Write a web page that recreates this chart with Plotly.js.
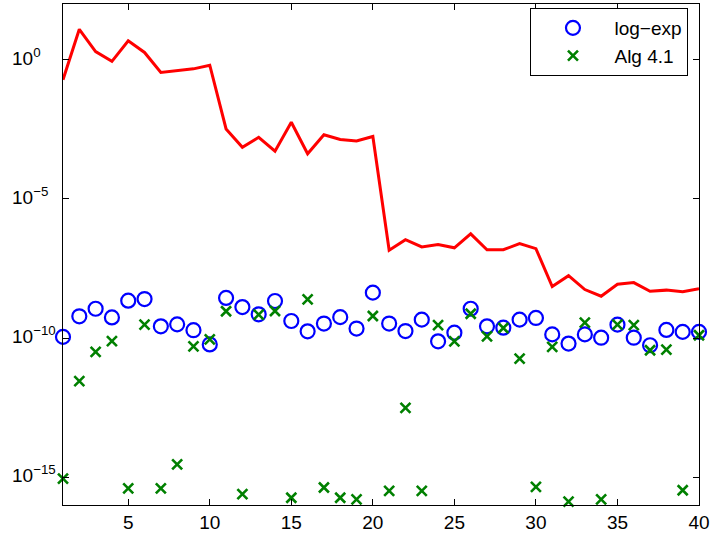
<!DOCTYPE html>
<html>
<head>
<meta charset="utf-8">
<script src="https://cdn.plot.ly/plotly-3.0.1.min.js"></script>
<style>html,body{margin:0;padding:0;background:#fff;}#chart{width:712px;height:539px;}</style>
</head>
<body>
<div id="chart"></div>
<script>
// Data: x = 1..40, values given as log10 exponents
const xs = [1,2,3,4,5,6,7,8,9,10,11,12,13,14,15,16,17,18,19,20,21,22,23,24,25,26,27,28,29,30,31,32,33,34,35,36,37,38,39,40];
const redExp = [-0.72,1.09,0.29,-0.06,0.68,0.26,-0.46,-0.39,-0.33,-0.20,
  -2.49,-3.15,-2.79,-3.29,-2.25,-3.38,-2.70,-2.87,-2.92,-2.76,
  -6.85,-6.47,-6.73,-6.64,-6.76,-6.26,-6.83,-6.83,-6.61,-6.79,
  -8.15,-7.76,-8.26,-8.50,-8.07,-8.01,-8.32,-8.28,-8.34,-8.23];
const logExpExp = [-9.96,-9.22,-8.95,-9.26,-8.66,-8.60,-9.58,-9.51,-9.72,-10.23,
  -8.56,-8.89,-9.15,-8.67,-9.39,-9.76,-9.48,-9.25,-9.66,-8.37,
  -9.48,-9.75,-9.34,-10.12,-9.81,-8.95,-9.58,-9.63,-9.34,-9.28,
  -9.87,-10.20,-9.87,-9.99,-9.52,-9.99,-10.26,-9.71,-9.78,-9.78];
const algExp = [-15.05,-11.55,-10.50,-10.11,-15.40,-9.52,-15.40,-14.54,-10.30,-10.05,
  -9.04,-15.61,-9.16,-9.03,-15.74,-8.61,-15.37,-15.74,-15.80,-9.21,
  -15.49,-12.51,-15.49,-9.54,-10.12,-9.13,-9.94,-9.64,-10.74,-15.35,
  -10.32,-15.88,-9.45,-15.80,-9.52,-9.54,-10.44,-10.42,-15.47,-9.90];
const seriesNames = ['log\u2212exp', 'Alg 4.1'];
const yTickExps = [-15, -10, -5, 0];
const yTickText = ['10<sup>\u221215</sup>', '10<sup>\u221210</sup>', '10<sup>\u22125</sup>', '10<sup>0</sup>'];
const xTickVals = [5,10,15,20,25,30,35,40];

const pow10 = a => a.map(v => Math.pow(10, v));

const traces = [
  {x: xs, y: pow10(redExp), mode: 'lines', type: 'scatter', showlegend: false,
   line: {color: '#ff0000', width: 3}, cliponaxis: false},
  {x: xs, y: pow10(logExpExp), mode: 'markers', type: 'scatter', name: seriesNames[0],
   marker: {symbol: 'circle-open', size: 14, color: '#0000ff', line: {color: '#0000ff', width: 2.2}},
   cliponaxis: false},
  {x: xs, y: pow10(algExp), mode: 'markers', type: 'scatter', name: seriesNames[1],
   marker: {symbol: 'x-thin', size: 10, color: '#008000', line: {color: '#008000', width: 2.6}},
   cliponaxis: false}
];

const font = 'Liberation Sans, Arial, Helvetica, sans-serif';
const plotW = 712 - 63 - 13;

// left-aligned y tick labels (MATLAB style), placed on the axis via yref
const annotations = yTickExps.map((e, i) => ({
  xref: 'paper', yref: 'y', x: (10 - 63) / plotW, y: e,
  xanchor: 'left', yanchor: 'middle', yshift: 3,
  text: yTickText[i], showarrow: false,
  font: {size: 19, family: font, color: '#000'}
}));

const layout = {
  width: 712, height: 539,
  margin: {l: 63, r: 13, t: 4, b: 34, pad: 0},
  paper_bgcolor: '#fff', plot_bgcolor: '#fff',
  font: {family: font, size: 19, color: '#000'},
  showlegend: true,
  annotations: annotations,
  xaxis: {range: [1, 40], tickvals: xTickVals, ticks: 'inside', ticklen: 6, tickcolor: '#000',
          showline: true, linecolor: '#000', linewidth: 1, mirror: 'ticks',
          showgrid: false, zeroline: false, tickfont: {size: 19, family: font}},
  yaxis: {type: 'log', range: [-16, 2], tickvals: pow10(yTickExps), showticklabels: false,
          ticks: 'inside', ticklen: 6, tickcolor: '#000',
          showline: true, linecolor: '#000', linewidth: 1, mirror: 'ticks',
          showgrid: false, zeroline: false},
  legend: {x: 0.735, y: 0.992, xanchor: 'left', yanchor: 'top',
           bgcolor: '#fff', bordercolor: '#000', borderwidth: 1,
           font: {size: 19, family: font}, itemwidth: 73}
};

Plotly.newPlot('chart', traces, layout, {displayModeBar: false, staticPlot: true});
</script>
</body>
</html>
